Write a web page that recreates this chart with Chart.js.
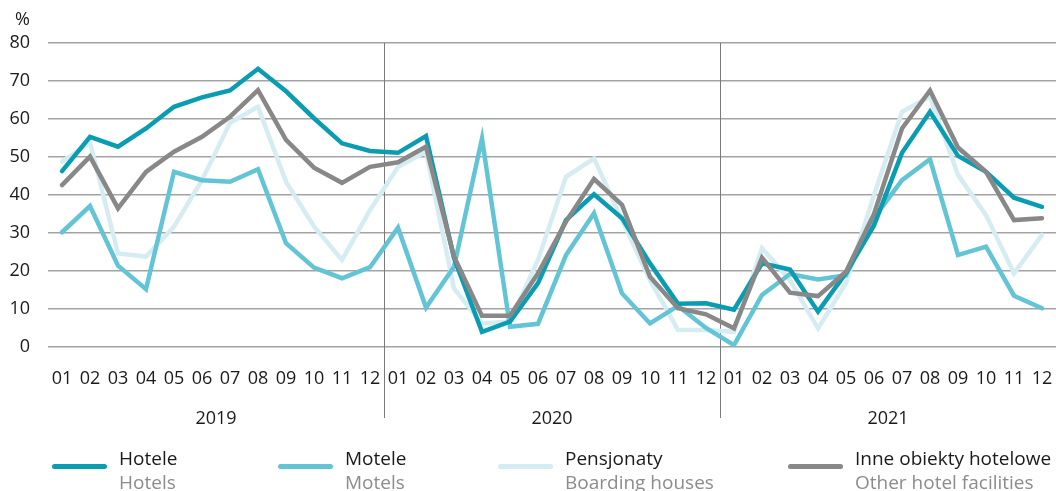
<!DOCTYPE html>
<html>
<head>
<meta charset="utf-8">
<script src="https://cdn.jsdelivr.net/npm/chart.js@4/dist/chart.umd.min.js"></script>
<style>
  html, body { margin: 0; padding: 0; background: #fff; }
  #wrap { position: relative; width: 1056px; height: 491px; }
  #legend { position: absolute; left: 0; top: 0; width: 1056px; height: 491px; pointer-events: none;
            font-family: 'Open Sans', sans-serif; font-size: 19px; }
  .item { position: absolute; top: 446px; }
  .swatch { position: absolute; top: 18px; width: 55px; height: 5px; border-radius: 3px; }
  .txt { position: absolute; white-space: nowrap; line-height: 24px; }
  .pl { color: #1a1a1a; }
  .en { color: #8c8c8c; }
</style>
</head>
<body>
<div id="wrap">
  <canvas id="myLineChart" width="1056" height="491"></canvas>
  <div id="legend"></div>
</div>
<script>
'use strict';

// Data
const months = ['01', '02', '03', '04', '05', '06', '07', '08', '09', '10', '11', '12'];
const years = ['2019', '2020', '2021'];
const monthLabels = years.flatMap(() => months);

const hotele = [46.3, 55.3, 52.7, 57.5, 63.2, 65.7, 67.5, 73.2, 67.3, 60.2, 53.6, 51.6,
    51.1, 55.5, 23.4, 4.0, 6.7, 16.8, 33.4, 40.2, 33.9, 22.0, 11.4, 11.5,
    9.8, 22.0, 20.4, 9.3, 19.5, 32.0, 51.1, 61.9, 50.3, 46.1, 39.3, 36.9];
const motele = [30.2, 37.1, 21.4, 15.2, 46.1, 43.9, 43.5, 46.8, 27.3, 20.9, 18.1, 21.0,
    31.4, 10.4, 21.1, 54.9, 5.3, 6.1, 24.2, 35.2, 14.1, 6.2, 10.8, 5.0,
    0.5, 13.7, 19.2, 17.8, 18.9, 34.0, 43.9, 49.4, 24.2, 26.4, 13.5, 10.2];
const pensjonaty = [48.8, 53.8, 24.6, 23.8, 31.7, 43.9, 59.0, 63.2, 43.5, 31.7, 22.9, 36.0,
    47.4, 51.4, 15.4, 6.2, 6.7, 22.9, 44.8, 49.6, 33.5, 17.6, 4.5, 4.5,
    4.0, 26.0, 17.6, 4.9, 16.8, 40.0, 61.9, 65.9, 45.3, 34.7, 19.4, 29.5];
const inne = [42.6, 50.1, 36.5, 46.1, 51.4, 55.3, 60.6, 67.6, 54.5, 47.2, 43.2, 47.4,
    48.6, 52.7, 23.8, 8.2, 8.2, 19.4, 33.0, 44.2, 37.4, 18.5, 10.2, 8.6,
    4.9, 23.5, 14.3, 13.4, 19.8, 35.0, 57.5, 67.5, 52.5, 46.1, 33.4, 33.9];

const seriesNames = [
    ['Hotele', 'Hotels'],
    ['Motele', 'Motels'],
    ['Pensjonaty', 'Boarding houses'],
    ['Inne obiekty hotelowe', 'Other hotel facilities']
];
const seriesColors = ['#0a9db2', '#63c4d6', '#d5ecf3', '#888888'];
const legendX = [52, 278, 498, 788];

const FONT = "'Open Sans', sans-serif";

// year dividers + % unit
const extrasPlugin = {
    id: 'extras',
    beforeDatasetsDraw(chart) {
        const x = chart.scales.x;
        const ctx = chart.ctx;
        ctx.save();
        ctx.strokeStyle = '#7a7a7a';
        ctx.lineWidth = 1;
        for (let i = 12; i < monthLabels.length; i += 12) {
            const px = Math.round((x.getPixelForValue(i - 1) + x.getPixelForValue(i)) / 2) + 0.5;
            ctx.beginPath();
            ctx.moveTo(px, chart.chartArea.top);
            ctx.lineTo(px, 418);
            ctx.stroke();
        }
        ctx.restore();
    },
    afterDraw(chart) {
        const ctx = chart.ctx;
        ctx.save();
        ctx.font = '18px ' + FONT;
        ctx.fillStyle = '#1a1a1a';
        ctx.textAlign = 'right';
        ctx.textBaseline = 'middle';
        ctx.fillText('%', 30, 20);
        ctx.restore();
    }
};

// no side padding for the x axes, the plot runs to the canvas edge
function noSidePadding(s, h) {
    s.height = h;
    s.paddingLeft = 0;
    s.paddingRight = 0;
}

function graphInit() {
    const canvas = document.getElementById('myLineChart');
    const ctx = canvas.getContext('2d');
    const allData = [hotele, motele, pensjonaty, inne];
    const drawOrder = [1, 2, 3, 0];
    return new Chart(ctx, {
        type: 'line',
        data: {
            labels: monthLabels,
            datasets: allData.map((d, i) => ({
                label: seriesNames[i][0],
                data: d,
                borderColor: seriesColors[i],
                borderWidth: 4.5,
                pointRadius: 0,
                fill: false,
                tension: 0,
                borderCapStyle: 'round',
                order: drawOrder[i]
            }))
        },
        options: {
            responsive: false,
            animation: false,
            layout: { padding: { top: 43, right: 0, bottom: 59, left: 0 } },
            plugins: { legend: { display: false }, tooltip: { enabled: false } },
            scales: {
                x: {
                    type: 'category',
                    offset: true,
                    grid: { display: false },
                    border: { display: false },
                    ticks: { color: '#1a1a1a', font: { family: FONT, size: 18 }, padding: 13, maxRotation: 0, autoSkip: false },
                    afterFit: s => noSidePadding(s, 45)
                },
                x2: {
                    type: 'category',
                    labels: years,
                    offset: true,
                    position: 'bottom',
                    grid: { display: false },
                    border: { display: false },
                    ticks: { color: '#1a1a1a', font: { family: FONT, size: 18 }, padding: 8, maxRotation: 0 },
                    afterFit: s => noSidePadding(s, 40)
                },
                y: {
                    min: 0,
                    max: 80,
                    ticks: { stepSize: 10, color: '#1a1a1a', font: { family: FONT, size: 18 }, padding: 18 },
                    grid: { color: '#a3a3a3', lineWidth: 1.5, drawTicks: false },
                    border: { display: false },
                    afterFit: s => { s.width = 48; }
                }
            }
        },
        plugins: [extrasPlugin]
    });
}

function legendInit() {
    const box = document.getElementById('legend');
    seriesNames.forEach((names, i) => {
        const item = document.createElement('div');
        item.className = 'item';
        item.style.left = legendX[i] + 'px';
        item.innerHTML =
            '<div class="swatch" style="left:0;background:' + seriesColors[i] + '"></div>' +
            '<div class="txt" style="left:67px;top:0"><span class="pl">' + names[0] + '</span><br>' +
            '<span class="en">' + names[1] + '</span></div>';
        box.appendChild(item);
    });
}

graphInit();
legendInit();
</script>
</body>
</html>
